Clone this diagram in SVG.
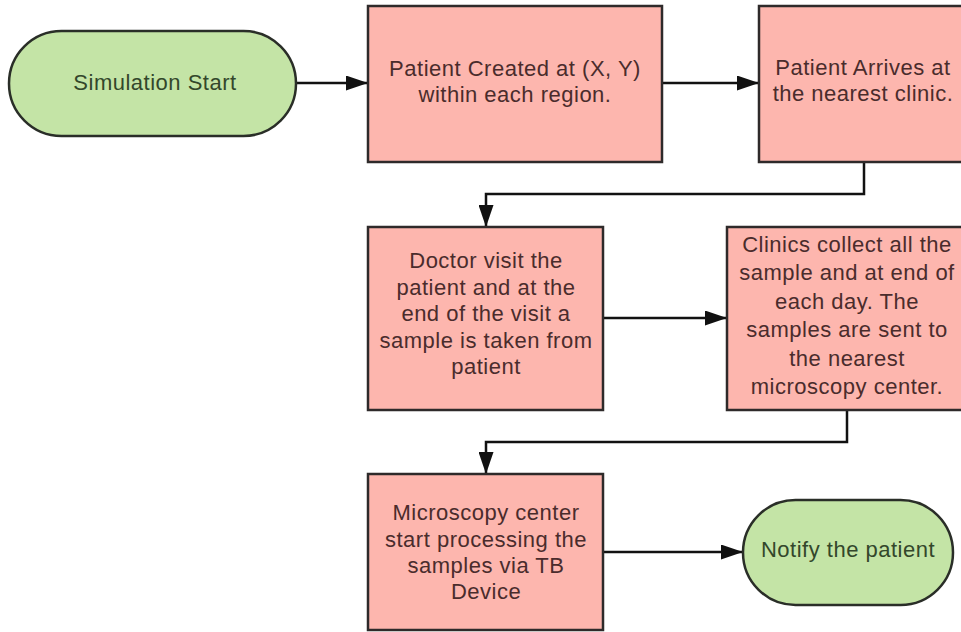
<svg xmlns="http://www.w3.org/2000/svg" width="961" height="632" viewBox="0 0 961 632">
  <defs>
    <marker id="arrow" markerUnits="userSpaceOnUse" markerWidth="22" markerHeight="15" refX="22" refY="7.5" orient="auto">
      <path d="M0,0 L22,7.5 L0,15 Z" fill="#111"/>
    </marker>
    <style>
      .proc { fill: #fdb6ae; stroke: #2e2a2a; stroke-width: 2.5; }
      .term { fill: #c4e4a6; stroke: #2a2e28; stroke-width: 2.5; }
      .txt { font-family: "Liberation Sans", Arial, sans-serif; font-size: 22px; letter-spacing: 0.5px; text-anchor: middle; }
      .proc-t { fill: #4a2c2c; }
      .term-t { fill: #33472b; }
      .conn { fill: none; stroke: #111; stroke-width: 2.5; marker-end: url(#arrow); }
    </style>
  </defs>
  <rect width="961" height="632" fill="#ffffff"/>

  <!-- connectors -->
  <g id="connectors">
    <path class="conn" d="M296,83 H368"/>
    <path class="conn" d="M662,83 H759"/>
    <path class="conn" d="M864,162 V194 H486 V227"/>
    <path class="conn" d="M603,318 H727"/>
    <path class="conn" d="M847,410 V442 H486 V474"/>
    <path class="conn" d="M603,552 H743"/>
  </g>

  <g id="start">
    <rect class="term" x="9" y="31" width="287" height="105" rx="52.5" ry="52.5"/>
    <text class="txt term-t" x="155" y="90">Simulation Start</text>
  </g>

  <g id="patient-created">
    <rect class="proc" x="368" y="6" width="294" height="156"/>
    <text class="txt proc-t" x="515"><tspan x="515" y="76">Patient Created at (X, Y)</tspan><tspan x="515" y="102">within each region.</tspan></text>
  </g>

  <g id="patient-arrives">
    <rect class="proc" x="759" y="6" width="209" height="156"/>
    <text class="txt proc-t" x="863"><tspan x="863" y="75">Patient Arrives at</tspan><tspan x="863" y="101">the nearest clinic.</tspan></text>
  </g>

  <g id="doctor-visit">
    <rect class="proc" x="368" y="227" width="235" height="183"/>
    <text class="txt proc-t" x="486"><tspan x="486" y="268">Doctor visit the</tspan><tspan x="486" y="295">patient and at the</tspan><tspan x="486" y="321">end of the visit a</tspan><tspan x="486" y="348">sample is taken from</tspan><tspan x="486" y="374">patient</tspan></text>
  </g>

  <g id="clinics-collect">
    <rect class="proc" x="727" y="227" width="241" height="183"/>
    <text class="txt proc-t" x="847"><tspan x="847" y="252">Clinics collect all the</tspan><tspan x="847" y="280">sample and at end of</tspan><tspan x="847" y="309">each day. The</tspan><tspan x="847" y="337">samples are sent to</tspan><tspan x="847" y="366">the nearest</tspan><tspan x="847" y="394">microscopy center.</tspan></text>
  </g>

  <g id="microscopy-center">
    <rect class="proc" x="368" y="474" width="235" height="156"/>
    <text class="txt proc-t" x="486"><tspan x="486" y="520">Microscopy center</tspan><tspan x="486" y="547">start processing the</tspan><tspan x="486" y="573">samples via TB</tspan><tspan x="486" y="599">Device</tspan></text>
  </g>

  <g id="notify">
    <rect class="term" x="743" y="500" width="210" height="105" rx="52.5" ry="52.5"/>
    <text class="txt term-t" x="848" y="557">Notify the patient</text>
  </g>
</svg>
